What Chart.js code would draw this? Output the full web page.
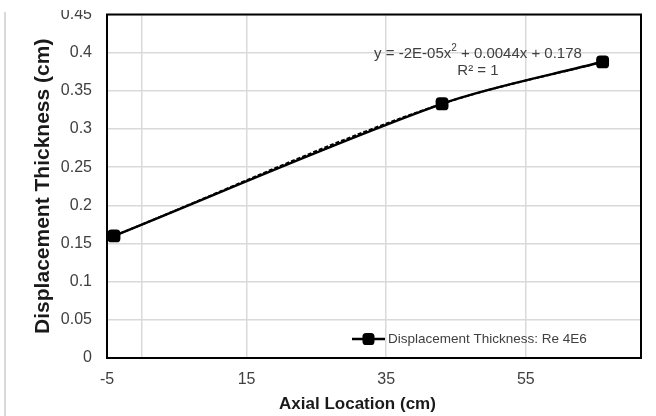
<!DOCTYPE html>
<html>
<head>
<meta charset="utf-8">
<script src="https://cdn.jsdelivr.net/npm/chart.js@4.4.1/dist/chart.umd.min.js"></script>
<style>
  html, body { margin: 0; padding: 0; background: #fff; }
  #wrap { position: relative; width: 656px; height: 416px; overflow: hidden; }
  #edge { position: absolute; left: 4px; top: 12px; bottom: 0; width: 2px; background: #d9d9d9; }
  #clip { position: absolute; left: 0; top: 10px; width: 656px; height: 406px; overflow: hidden; }
  #c { position: absolute; left: 0; top: -3px; }
</style>
</head>
<body>
<div id="wrap">
  <div id="edge"></div>
  <div id="clip"><canvas id="c" width="656" height="409"></canvas></div>
</div>
<script>
// data
var axialLocation = [-4, 43, 66];
var displacementThickness = [0.16, 0.333, 0.388];
var seriesLabel = 'Displacement Thickness: Re 4E6';

// axes
var xTickValues = [-5, 15, 35, 55];
var xAxisCross = [0];            // light vertical line where the y axis crosses
var yTickValues = [0, 0.05, 0.1, 0.15, 0.2, 0.25, 0.3, 0.35, 0.4, 0.45];
var yTickLabels = ['0', '0.05', '0.1', '0.15', '0.2', '0.25', '0.3', '0.35', '0.4', '0.45'];

// trendline label text
var trendEq = ['y = -2E-05x', '2', ' + 0.0044x + 0.178'];
var trendR2 = 'R\u00B2 = 1';

var FONT = "'Liberation Sans', Arial, sans-serif";

var points = axialLocation.map(function(x, i){
    return {x: x, y: displacementThickness[i]};
});

// black frame round the plot area
var plotFrame = {
    id: 'plotFrame',
    beforeDatasetsDraw: function(chart){
        var a = chart.chartArea, ctx = chart.ctx;
        ctx.save();
        ctx.strokeStyle = '#000';
        ctx.lineWidth = 2;
        ctx.strokeRect(a.left, a.top, a.right - a.left, a.bottom - a.top);
        ctx.restore();
    }
};

// trendline equation + legend inside the plot
var plotNotes = {
    id: 'plotNotes',
    afterDatasetsDraw: function(chart){
        var a = chart.chartArea, ctx = chart.ctx;
        ctx.save();
        ctx.fillStyle = '#404040';
        ctx.textBaseline = 'middle';

        // equation
        var big = '15px ' + FONT, small = '10px ' + FONT;
        ctx.font = big;
        var w0 = ctx.measureText(trendEq[0]).width;
        var w2 = ctx.measureText(trendEq[2]).width;
        ctx.font = small;
        var w1 = ctx.measureText(trendEq[1]).width;
        var cx = a.left + 371, cy = a.top + 39;
        var x = cx - (w0 + w1 + w2) / 2;
        ctx.font = big;
        ctx.textAlign = 'left';
        ctx.fillText(trendEq[0], x, cy);
        ctx.font = small;
        ctx.fillText(trendEq[1], x + w0, cy - 5);
        ctx.font = big;
        ctx.fillText(trendEq[2], x + w0 + w1, cy);
        ctx.textAlign = 'center';
        ctx.fillText(trendR2, cx, a.top + 56);

        // legend
        var ly = a.bottom - 19;
        var lx = a.left + 245;
        ctx.strokeStyle = '#000';
        ctx.lineWidth = 2.5;
        ctx.beginPath();
        ctx.moveTo(lx, ly);
        ctx.lineTo(lx + 33, ly);
        ctx.stroke();
        ctx.fillStyle = '#000';
        Chart.helpers.drawPoint(ctx, {pointStyle: 'rectRounded', radius: 7, rotation: 0, borderWidth: 0}, lx + 16.5, ly);
        ctx.fillStyle = '#404040';
        ctx.textAlign = 'left';
        ctx.font = '13.5px ' + FONT;
        ctx.fillText(seriesLabel, lx + 36, ly);
        ctx.restore();
    }
};

var ctx = document.getElementById('c');

var chart = new Chart(ctx, {
    type: 'scatter',
    data: {
        datasets: [
            {
                label: seriesLabel,
                data: points,
                showLine: true,
                tension: 0.3,
                borderColor: '#000',
                backgroundColor: '#000',
                borderWidth: 2.5,
                pointStyle: 'rectRounded',
                pointRadius: 7.5,
                pointHoverRadius: 7.5,
                pointBorderWidth: 0,
                order: 1
            },
            {
                label: 'Poly. trend',
                data: points,
                showLine: true,
                cubicInterpolationMode: 'monotone',
                borderColor: '#000',
                borderWidth: 2,
                borderDash: [4, 2],
                pointRadius: 0,
                pointHoverRadius: 0,
                order: 2
            }
        ]
    },
    options: {
        responsive: false,
        animation: false,
        layout: { padding: { left: 0, right: 15, top: 0, bottom: 0 } },
        plugins: {
            legend: { display: false },
            tooltip: { enabled: false }
        },
        scales: {
            x: {
                type: 'linear',
                min: -5,
                max: 71.5,
                afterBuildTicks: function(scale){
                    scale.ticks = xTickValues.concat(xAxisCross)
                        .sort(function(a, b){ return a - b; })
                        .map(function(v){ return {value: v}; });
                },
                afterFit: function(scale){
                    scale.height = 58;
                    scale.paddingLeft = 0;
                    scale.paddingRight = 0;
                },
                ticks: {
                    padding: 12,
                    maxRotation: 0,
                    autoSkip: false,
                    color: '#404040',
                    font: { family: FONT, size: 16 },
                    callback: function(v){
                        return xTickValues.indexOf(v) >= 0 ? String(v) : '';
                    }
                },
                grid: { color: '#d9d9d9', lineWidth: 1.5, drawTicks: false },
                border: { color: '#000', width: 2 },
                title: {
                    display: true,
                    text: 'Axial Location (cm)       ',
                    color: '#1a1a1a',
                    font: { family: FONT, size: 17, weight: 'bold' },
                    padding: { top: 0, bottom: 1 }
                }
            },
            y: {
                type: 'linear',
                min: 0,
                max: 0.45,
                afterBuildTicks: function(scale){
                    scale.ticks = yTickValues.map(function(v){ return {value: v}; });
                },
                afterFit: function(scale){
                    scale.width = 107;
                    scale.paddingTop = 0;
                    scale.paddingBottom = 0;
                },
                ticks: {
                    padding: 15,
                    autoSkip: false,
                    color: '#404040',
                    font: { family: FONT, size: 16 },
                    callback: function(v, i){ return yTickLabels[i]; }
                },
                grid: { color: '#d9d9d9', lineWidth: 1.5, drawTicks: false },
                border: { color: '#000', width: 2 },
                title: {
                    display: true,
                    text: 'Displacement Thickness (cm)',
                    color: '#1a1a1a',
                    font: { family: FONT, size: 21, weight: 'bold' },
                    padding: { top: 31, bottom: 0 }
                }
            }
        }
    },
    plugins: [plotFrame, plotNotes]
});
</script>
</body>
</html>
